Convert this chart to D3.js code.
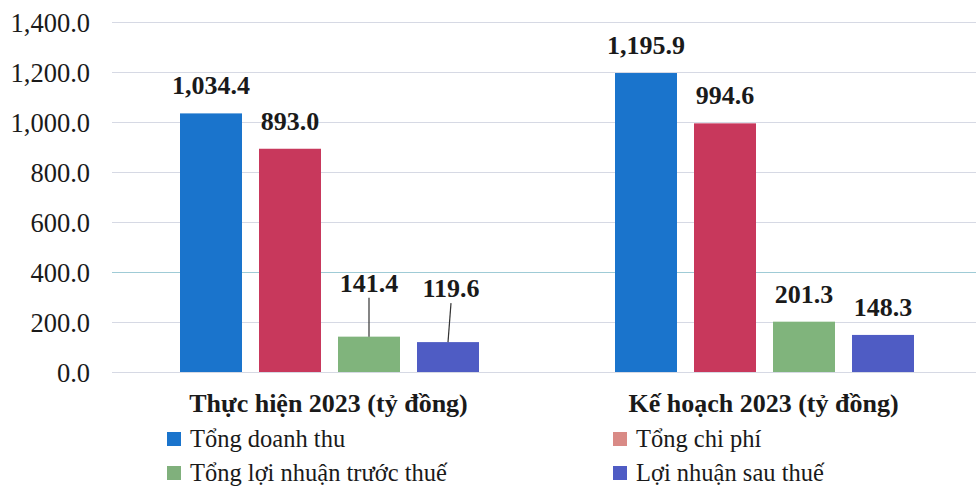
<!DOCTYPE html>
<html><head><meta charset="utf-8">
<script src="https://cdn.jsdelivr.net/npm/d3@7"></script>
<style>body{margin:0;background:#fff;} svg{display:block;} svg text{font-family:"Liberation Serif","Times New Roman",serif;}</style>
</head><body>
<svg id="chart" width="976" height="493"></svg>
<script>
const categories = ["Thực hiện 2023 (tỷ đồng)", "Kế hoạch 2023 (tỷ đồng)"];
const seriesNames = ["Tổng doanh thu", "Tổng chi phí", "Tổng lợi nhuận trước thuế", "Lợi nhuận sau thuế"];
const doanhThu = [1034.4, 1195.9];
const chiPhi = [893.0, 994.6];
const loiNhuanTruocThue = [141.4, 201.3];
const loiNhuanSauThue = [119.6, 148.3];
const yTicks = [0, 200, 400, 600, 800, 1000, 1200, 1400];

const colors = ["#1a74cc", "#c8385c", "#80b47c", "#4f5cc4"];
const legendColors = ["#1a74cc", "#d98a86", "#80b07c", "#4f5cc4"];
const values = [doanhThu, chiPhi, loiNhuanTruocThue, loiNhuanSauThue];

const svg = d3.select("#chart");

const y = d3.scaleLinear().domain([0, 1400]).range([372, 22]);
const x0 = d3.scaleBand().domain(categories).range([112, 982]).padding(0);
const groupW = 299;
const x1 = d3.scaleBand().domain(seriesNames).range([0, groupW]).paddingInner(17/79).paddingOuter(0);

// gridlines
svg.append("g").selectAll("line").data(yTicks).join("line")
  .attr("x1", 112).attr("x2", 976)
  .attr("y1", d => y(d) + 0.5).attr("y2", d => y(d) + 0.5)
  .attr("stroke", d => d === 400 ? "#9fcbd6" : "#d6d9e4").attr("stroke-width", 1);

// y axis labels
const yAxis = d3.axisLeft(y).tickValues(yTicks).tickSize(0).tickPadding(0)
  .tickFormat(d3.format(",.1f"));
const ya = svg.append("g").attr("transform", "translate(90,0)").call(yAxis);
ya.select(".domain").remove();
ya.attr("font-family", null);
ya.selectAll("text").style("font-size", "26.5px").attr("fill", "#1a1a1a").attr("dy", "0.34em");

// bars
const groups = svg.append("g").selectAll("g").data(categories).join("g")
  .attr("transform", d => `translate(${x0(d) + (x0.bandwidth() - groupW) / 2},0)`);

const flat = [];
categories.forEach((c, ci) => seriesNames.forEach((s, si) => flat.push({c, ci, s, si, v: values[si][ci]})));

groups.each(function(c, ci) {
  const g = d3.select(this);
  const data = flat.filter(d => d.ci === ci);
  g.selectAll("rect").data(data).join("rect")
    .attr("x", d => x1(d.s)).attr("width", x1.bandwidth())
    .attr("y", d => y(d.v)).attr("height", d => y(0) - y(d.v))
    .attr("fill", d => colors[d.si]);
  data.forEach(d => {
    const cx = x1(d.s) + x1.bandwidth() / 2;
    const leader = ci === 0 && d.si >= 2;
    const dxShift = (ci === 0 && d.si === 3) ? 3 : 0;
    const off = leader ? 45 : 19;
    g.append("text").attr("x", cx + dxShift).attr("y", y(d.v) - off)
      .attr("text-anchor", "middle").style("font-weight", "bold")
      .style("font-size", "26px").attr("fill", "#1a1a1a")
      .text(d3.format(",.1f")(d.v));
    if (leader) {
      g.append("line").attr("x1", cx + dxShift).attr("y1", y(d.v) - 39)
        .attr("x2", cx).attr("y2", y(d.v))
        .attr("stroke", "#333").attr("stroke-width", 1.2);
    }
  });
});

// category labels
svg.append("g").selectAll("text").data(categories).join("text")
  .attr("x", d => x0(d) + x0.bandwidth() / 2 - 1).attr("y", 412)
  .attr("text-anchor", "middle").style("font-weight", "bold")
  .style("font-size", "26px").attr("fill", "#1a1a1a").text(d => d);

// legend
const legendPos = [[167, 447], [613, 447], [167, 481], [613, 481]];
const lg = svg.append("g").selectAll("g").data(seriesNames).join("g")
  .attr("transform", (d, i) => `translate(${legendPos[i][0]},${legendPos[i][1]})`);
lg.append("rect").attr("x", 0).attr("y", -15).attr("width", 14).attr("height", 14)
  .attr("fill", (d, i) => legendColors[i]);
lg.append("text").attr("x", 23).attr("y", 0)
  .style("font-size", "24.5px").attr("fill", "#1a1a1a").text(d => d);
</script>
</body></html>
